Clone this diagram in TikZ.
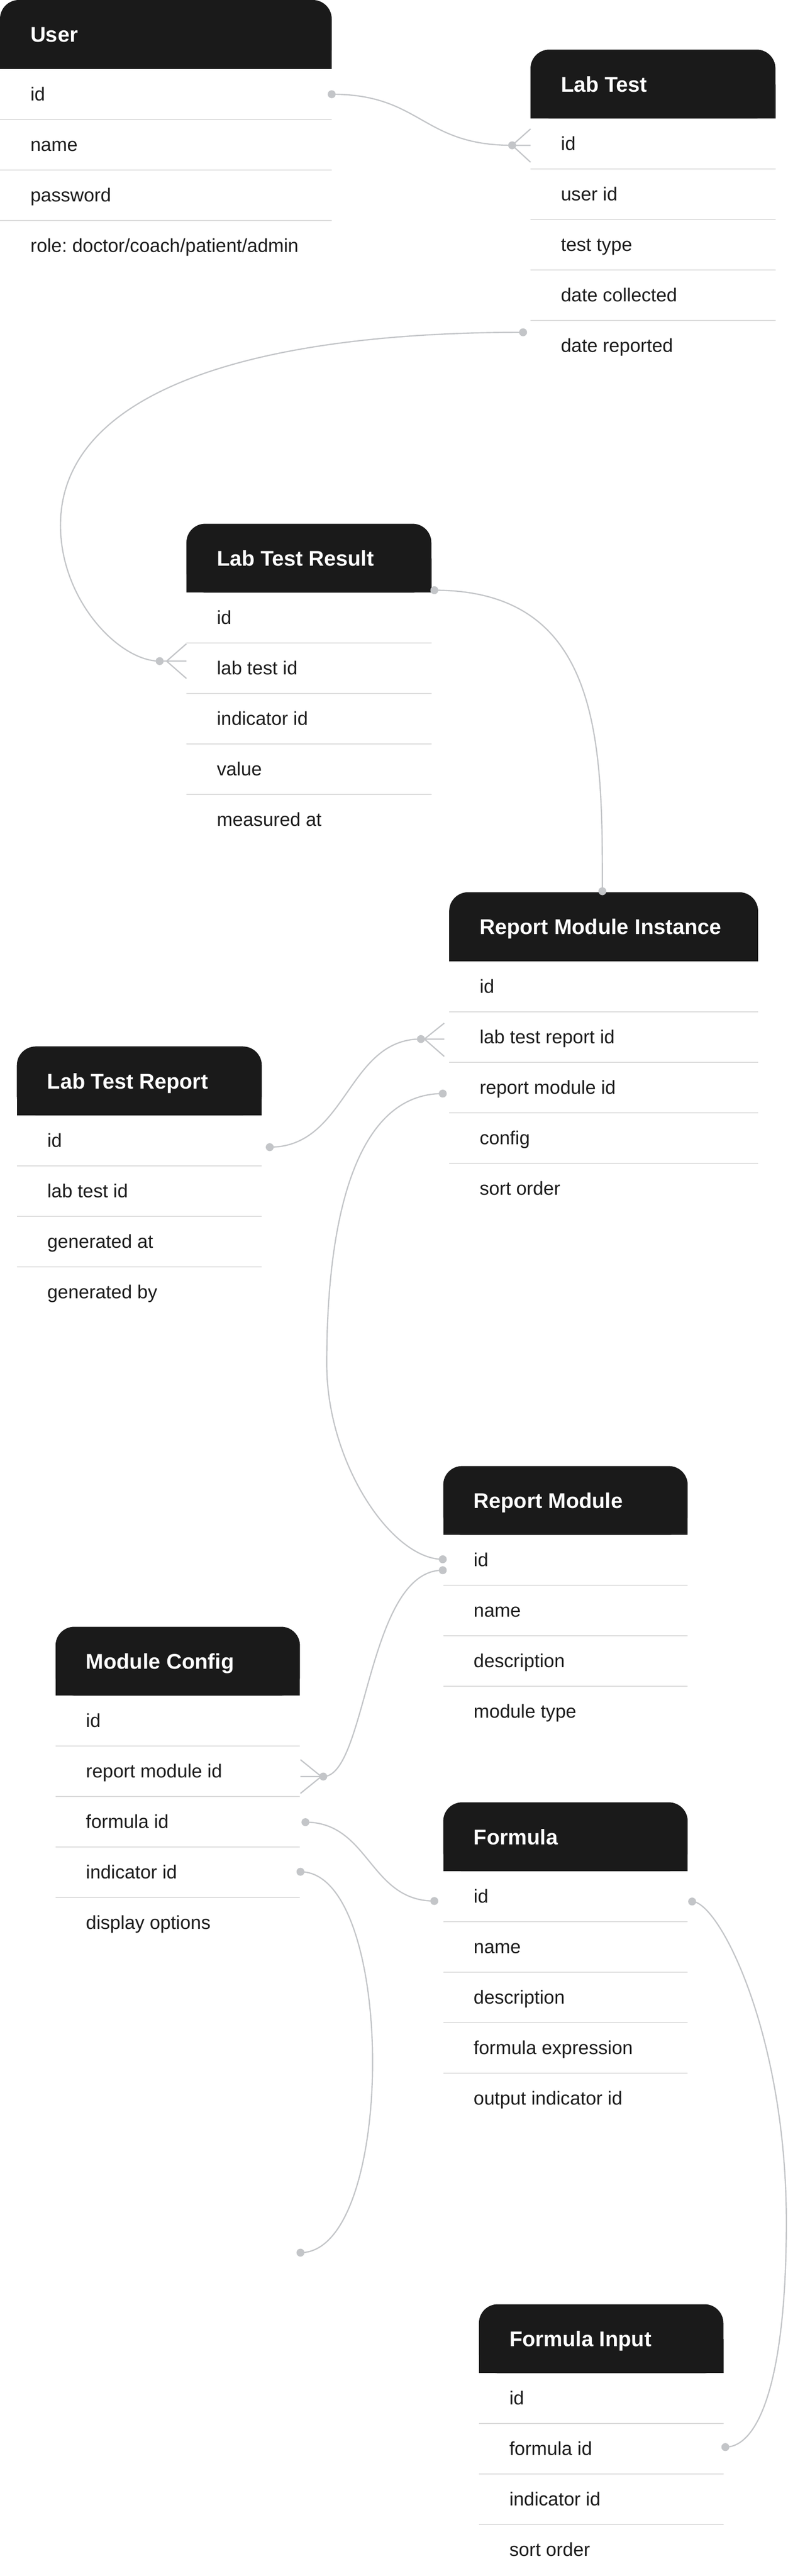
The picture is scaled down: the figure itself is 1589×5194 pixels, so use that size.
\documentclass[tikz,border=0pt]{standalone}
\usepackage{fontspec}
\setmainfont{Liberation Sans}
\frenchspacing
\definecolor{hdrc}{HTML}{1A1A1A}
\definecolor{sepc}{HTML}{DCDCDC}
\definecolor{connc}{HTML}{C3C5C8}
\definecolor{txtc}{HTML}{1C1C1C}
\tikzset{
 hdrtext/.style={anchor=base west, inner sep=0pt, text=white, font=\bfseries\fontsize{21.5}{26}\selectfont},
 rowtext/.style={anchor=base west, inner sep=0pt, text=txtc, font=\fontsize{19}{23}\selectfont},
 sepline/.style={draw=sepc, line width=1pt},
 conn/.style={draw=connc, line width=1.25pt},
 dotnode/.style={circle, fill=connc, inner sep=0pt, minimum size=8pt},
}
\newcommand{\erbox}[6]{%
 \fill[hdrc, rounded corners=19pt] (#2,#3) rectangle ({#2+#4},{#3+139});
 \fill[hdrc] (#2,{#3+70}) rectangle ({#2+#4},{#3+139});
 \node[hdrtext] (#1) at ({#2+61},{#3+85}) {#5};
 \foreach \r [count=\i] in {#6} {
   \ifnum\i>1 \draw[sepline] (#2,{#3+139+101.8*(\i-1)}) -- ++(#4,0); \fi
   \node[rowtext] (#1-\i) at ({#2+61},{#3+139+101.8*(\i-1)+50.9+13}) {\r};
 }
}
\begin{document}
\begin{tikzpicture}[x=0.5pt,y=-0.5pt]
\useasboundingbox (0,0) rectangle (1589,5194);
\fill[white] (0,0) rectangle (1589,5194);

% entities
\erbox{user}{0}{0}{669}{User}{id,name,password,{role: doctor/coach/patient/admin}}
\erbox{lt}{1070}{100}{494}{Lab Test}{id,user id,test type,date collected,date reported}
\erbox{ltr}{376}{1056}{494}{Lab Test Result}{id,lab test id,indicator id,value,measured at}
\erbox{rmi}{906}{1799}{623}{Report Module Instance}{id,lab test report id,report module id,config,sort order}
\erbox{ltrep}{34}{2110}{494}{Lab Test Report}{id,lab test id,generated at,generated by}
\erbox{rm}{894}{2956}{493}{Report Module}{id,name,description,module type}
\erbox{mc}{112}{3280}{493}{Module Config}{id,report module id,formula id,indicator id,display options}
\erbox{fo}{894}{3634}{493}{Formula}{id,name,description,formula expression,output indicator id}
\erbox{fi}{966}{4646}{493}{Formula Input}{id,formula id,indicator id,sort order}

% dots
\node[dotnode] (d1) at (669,190) {};
\node[dotnode] (d2) at (1033,293) {};
\node[dotnode] (d3) at (1055,670) {};
\node[dotnode] (d4) at (322,1333) {};
\node[dotnode] (d5) at (876,1190) {};
\node[dotnode] (d6) at (1215,1797) {};
\node[dotnode] (d7) at (544,2313) {};
\node[dotnode] (d8) at (849,2095) {};
\node[dotnode] (d9) at (893,2205) {};
\node[dotnode] (d10) at (893,3144) {};
\node[dotnode] (d11) at (893,3166) {};
\node[dotnode] (d12) at (652,3582) {};
\node[dotnode] (d13) at (616,3674) {};
\node[dotnode] (d14) at (876,3833) {};
\node[dotnode] (d15) at (606,3774) {};
\node[dotnode] (d16) at (606,4542) {};
\node[dotnode] (d17) at (1396,3834) {};
\node[dotnode] (d18) at (1463,4934) {};

% crow's foot points
\coordinate (f2a) at (1070,260); \coordinate (f2b) at (1070,293); \coordinate (f2c) at (1070,327);
\coordinate (f4o) at (336,1333); \coordinate (f4a) at (376,1298); \coordinate (f4b) at (376,1333); \coordinate (f4c) at (376,1368);
\coordinate (f8o) at (856,2095); \coordinate (f8a) at (896,2063); \coordinate (f8b) at (896,2095); \coordinate (f8c) at (896,2130);
\coordinate (f12o) at (648,3582); \coordinate (f12a) at (606,3548); \coordinate (f12b) at (606,3582); \coordinate (f12c) at (606,3616);

% connectors
\draw[conn] (d1.center) .. controls (850,190) and (850,293) .. (d2.center);
\draw[conn] (d2.center) -- (f2a) (d2.center) -- (f2b) (d2.center) -- (f2c);

\draw[conn] (d3.center) .. controls (480,670) and (122,800) .. (122,1059)
  .. controls (122,1210) and (240,1333) .. (d4.center);
\draw[conn] (d4.center) -- (f4b) (f4o) -- (f4a) (f4o) -- (f4c);

\draw[conn] (d5.center) .. controls (1215,1190) and (1215,1500) .. (d6.center);

\draw[conn] (d7.center) .. controls (700,2313) and (700,2095) .. (d8.center);
\draw[conn] (d8.center) -- (f8b) (f8o) -- (f8a) (f8o) -- (f8c);

\draw[conn] (d9.center) .. controls (720,2205) and (659,2450) .. (659,2750)
  .. controls (659,2950) and (790,3144) .. (d10.center);

\draw[conn] (d11.center) .. controls (740,3166) and (740,3582) .. (d12.center);
\draw[conn] (d12.center) -- (f12b) (f12o) -- (f12a) (f12o) -- (f12c);

\draw[conn] (d13.center) .. controls (745,3674) and (745,3833) .. (d14.center);

\draw[conn] (d15.center) .. controls (800,3774) and (800,4542) .. (d16.center);

\draw[conn] (d17.center) .. controls (1450,3834) and (1586,4100) .. (1586,4480)
  .. controls (1586,4800) and (1530,4934) .. (d18.center);
\end{tikzpicture}
\end{document}
